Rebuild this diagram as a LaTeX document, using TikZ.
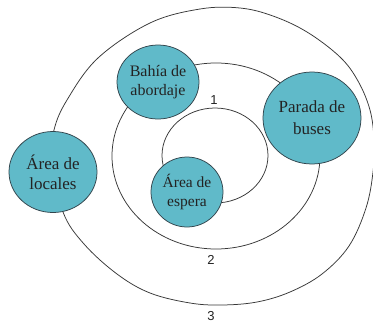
\documentclass[tikz,border=0pt]{standalone}
\usepackage{fontspec}
\setmainfont{Liberation Serif}
\newfontfamily\numfont{Liberation Sans}
\usetikzlibrary{shapes.geometric}
\definecolor{zonefill}{RGB}{96,186,201}
\definecolor{zoneline}{RGB}{50,68,76}
\definecolor{ringline}{RGB}{55,55,55}
\definecolor{txt}{RGB}{35,35,35}
\begin{document}
\begin{tikzpicture}[x=1pt,y=-1pt,
  ring/.style={draw=ringline, line width=0.75pt},
  zone/.style={ellipse, draw=zoneline, fill=zonefill, line width=0.75pt,
    inner sep=0pt, align=center, text=txt},
  ringlabel/.style={inner sep=0pt, text=txt, font=\numfont\fontsize{13}{15}\selectfont}]
\useasboundingbox (0,0) rectangle (373,322);
\fill[white] (0,0) rectangle (373,322);
% rings
\draw[ring] (215,155.5) ellipse [x radius=53, y radius=47.5];
\draw[ring] (216,156) ellipse [x radius=104, y radius=93];
\draw[ring] plot[smooth cycle, tension=0.6] coordinates {
  (52,160) (54,130) (67,100) (98,58) (150,23) (200,9) (240,8) (273,16)
  (307,32) (340,57) (358,81) (370,110) (374,140) (373,172) (366,208)
  (349,246) (322,274) (290,292) (257,302) (222,305) (190,303) (150,293)
  (117,274) (84,244) (63,212)};
% zones
\node[zone, minimum width=82pt, minimum height=74pt, font=\fontsize{16}{19}\selectfont]
  (bahia) at (158,82) {Bahía de\\abordaje};
\node[zone, minimum width=98pt, minimum height=92pt, font=\fontsize{17}{22}\selectfont]
  (parada) at (312,118) {Parada de\\buses};
\node[zone, minimum width=88pt, minimum height=81pt, font=\fontsize{17}{20}\selectfont]
  (locales) at (53,172) {Área de\\locales};
\node[zone, minimum width=72pt, minimum height=70pt, font=\fontsize{15.5}{19}\selectfont]
  (espera) at (187,192) {Área de\\espera};
% ring numbers
\node[ringlabel] (n1) at (214,100) {1};
\node[ringlabel] (n2) at (211,260) {2};
\node[ringlabel] (n3) at (211,316) {3};
\end{tikzpicture}
\end{document}
